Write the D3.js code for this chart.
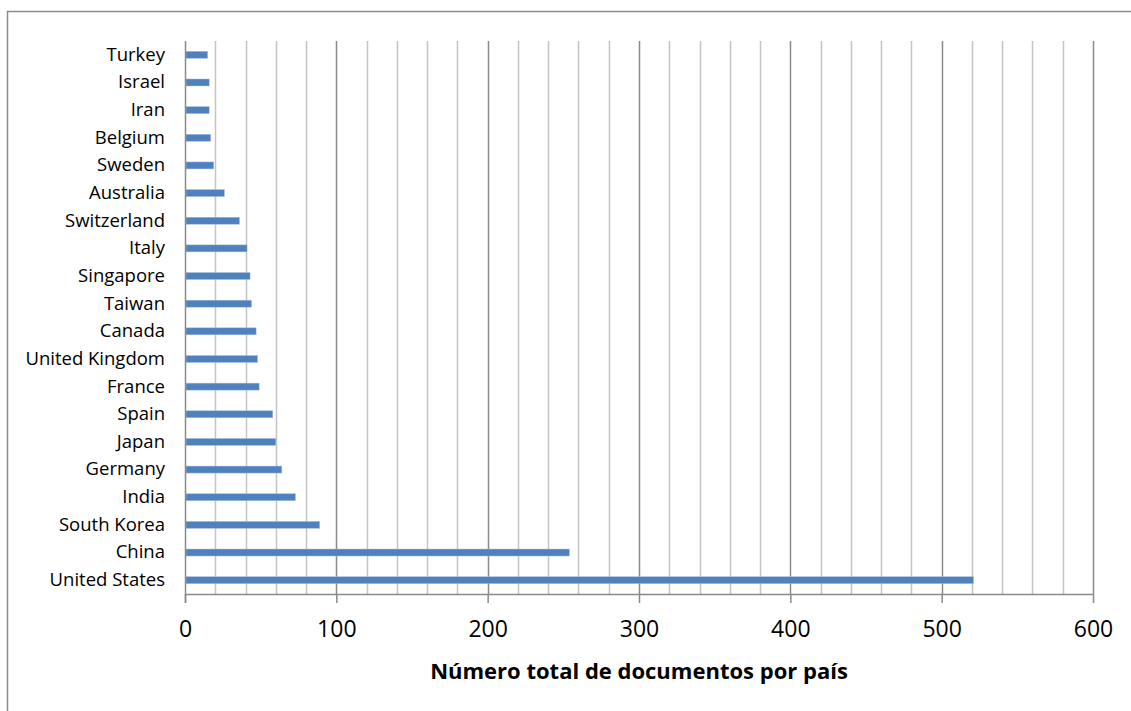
<!DOCTYPE html>
<html>
<head>
<meta charset="utf-8">
<script src="https://cdn.jsdelivr.net/npm/d3@7"></script>
<style>
  html, body { margin: 0; padding: 0; background: #fff; }
  svg { display: block; }
  text { font-family: "Open Sans", sans-serif; fill: #000; }
</style>
</head>
<body>
<svg id="chart" width="1131" height="711"></svg>
<script>
// Documents per country (top to bottom as listed)
const countries = ["Turkey", "Israel", "Iran", "Belgium", "Sweden", "Australia", "Switzerland",
  "Italy", "Singapore", "Taiwan", "Canada", "United Kingdom", "France", "Spain", "Japan",
  "Germany", "India", "South Korea", "China", "United States"];
const documents = [15, 16, 16, 17, 19, 26, 36, 41, 43, 44, 47, 48, 49, 58, 60, 64, 73, 89, 254, 521];
const xTicks = [0, 100, 200, 300, 400, 500, 600];
const xTitle = "Número total de documentos por país";

(function () {
  const svg = d3.select("#chart");
  const plotLeft = 185, plotRight = 1093, plotTop = 41, plotBottom = 594;
  const font = "\"Open Sans\", sans-serif";

  // chart frame
  svg.append("rect")
    .attr("x", 7.5).attr("y", 11.5)
    .attr("width", 1140).attr("height", 720)
    .attr("fill", "none").attr("stroke", "#8c8c8c").attr("stroke-width", 1.5);

  const x = d3.scaleLinear().domain([0, 600]).range([plotLeft, plotRight]);
  const y = d3.scaleBand().domain(countries).range([plotTop, plotBottom]);

  // vertical gridlines: every 20, darker at each 100
  const grid = d3.range(20, 601, 20);
  svg.append("g").selectAll("line").data(grid).join("line")
    .attr("x1", d => Math.round(x(d)) + 0.5).attr("x2", d => Math.round(x(d)) + 0.5)
    .attr("y1", plotTop).attr("y2", plotBottom)
    .attr("stroke", d => d % 100 === 0 ? "#8a8a8a" : "#c4c4c4")
    .attr("stroke-width", 1.5);

  // bars
  svg.append("g").selectAll("rect").data(countries).join("rect")
    .attr("x", x(0) + 1)
    .attr("y", d => y(d) + y.bandwidth() / 2 - 3.5)
    .attr("width", (d, i) => x(documents[i]) - x(0) - 1)
    .attr("height", 7)
    .attr("fill", "#4f81bd")
    .attr("stroke", "#a9c2e0").attr("stroke-width", 0.5);

  // x axis
  const xAxis = svg.append("g")
    .attr("transform", `translate(0,${plotBottom})`)
    .call(d3.axisBottom(x).tickValues(xTicks).tickSize(9).tickPadding(18).tickFormat(d3.format("d")));
  xAxis.select(".domain").attr("stroke", "#8a8a8a").attr("stroke-width", 1.5).attr("d", `M${plotLeft},0.5H${plotRight}`);
  xAxis.selectAll(".tick line").attr("stroke", "#8a8a8a").attr("stroke-width", 1.5);
  xAxis.selectAll(".tick text").attr("font-size", 23).attr("fill", "#000")
    .style("font-family", font);

  // y axis
  const yAxis = svg.append("g")
    .attr("transform", `translate(${plotLeft},0)`)
    .call(d3.axisLeft(y).tickSize(0).tickPadding(20));
  yAxis.select(".domain").attr("stroke", "#8a8a8a").attr("stroke-width", 1.5).attr("d", `M0.5,${plotTop}V${plotBottom + 9}`);
  yAxis.selectAll(".tick text").attr("font-size", 18.5).attr("fill", "#000")
    .style("font-family", font);

  // axis title
  svg.append("text")
    .attr("x", 639).attr("y", 679)
    .attr("text-anchor", "middle")
    .attr("font-size", 22).attr("font-weight", "bold")
    .text(xTitle);
})();
</script>
</body>
</html>
